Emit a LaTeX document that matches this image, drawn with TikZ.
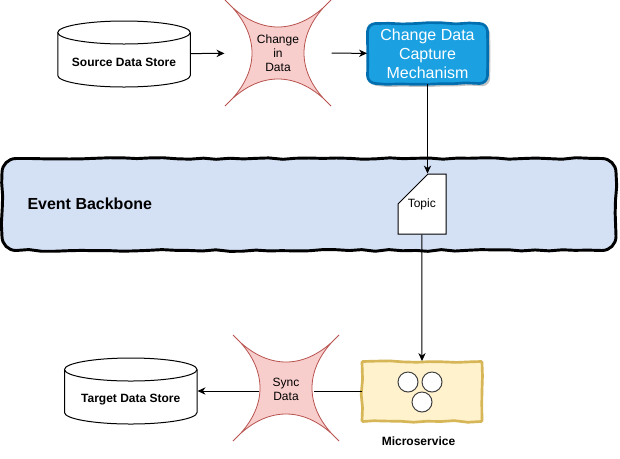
\documentclass[tikz,border=0pt]{standalone}
\usepackage{fontspec}
\setmainfont{Liberation Sans}
\usepackage{tikz}
\usetikzlibrary{arrows.meta,calc,positioning,shadows,decorations.pathmorphing}
\definecolor{burstfill}{HTML}{F8CECC}
\definecolor{burstline}{HTML}{B85450}
\definecolor{cdcfill}{HTML}{1BA1E2}
\definecolor{cdcline}{HTML}{006EAF}
\definecolor{backbonefill}{HTML}{D4E1F5}
\definecolor{svcfill}{HTML}{FFF2CC}
\definecolor{svcline}{HTML}{D6B656}
% one star with its four points on a 106 px square
\newcommand{\burstshape}[2]{%
  \begin{scope}[shift={(#1,#2)}]
    \path[draw=burstline,fill=burstfill,line width=.6pt] (-53,-53)
      .. controls (-20,-17) and (20,-17) .. (53,-53)
      .. controls (17,-20) and (17,20) .. (53,53)
      .. controls (20,17) and (-20,17) .. (-53,53)
      .. controls (-17,20) and (-17,-20) .. cycle;
  \end{scope}}
% cylinder outline, 132.5 px wide
\newcommand{\storeshape}[2]{%
  \begin{scope}[shift={(#1,#2)}]
    \draw[fill=white] (-66.25,-21.5) -- (-66.25,21.5)
      arc[start angle=180,end angle=0,x radius=66.25,y radius=11.5] -- (66.25,-21.5);
    \draw[fill=white] (0,-21.5) ellipse[x radius=66.25,y radius=11.5];
  \end{scope}}
% hand drawn box: centre, half width, half height, corner radius
\newcommand{\wobblebox}[6][]{%
  \begin{scope}[shift={(#2,#3)}]
    \draw[#1] (-#4+#6,-#5) decorate[wobble] {-- (#4-#6,-#5)}
      arc[start angle=270,end angle=360,radius=#6] decorate[wobble] {-- (#4,#5-#6)}
      arc[start angle=0,end angle=90,radius=#6] decorate[wobble] {-- (-#4+#6,#5)}
      arc[start angle=90,end angle=180,radius=#6] decorate[wobble] {-- (-#4,-#5+#6)}
      arc[start angle=180,end angle=270,radius=#6] -- cycle;
  \end{scope}}

\begin{document}
\begin{tikzpicture}[x=.75pt,y=-.75pt,>={Stealth[length=6pt,width=5.5pt]},line width=.75pt,
  font=\fontsize{9pt}{10.5pt}\selectfont,
  wobble/.style={decoration={random steps,segment length=10pt,amplitude=.7pt}},
  store/.style={minimum width=99.4pt,minimum height=49pt,inner sep=0pt,
    label={[storetext]center:#1}},
  storetext/.style={font=\fontsize{9pt}{10.5pt}\selectfont\bfseries,yshift=-6.6pt},
  burst/.style={align=center,inner sep=0pt},
  svccircle/.style={circle,draw=black!75,fill=white,minimum size=15pt,inner sep=0pt}]
\path[use as bounding box] (0,0) rectangle (620,458);
\fill[white] (0,0) rectangle (620,458);

% top row
\storeshape{124}{54}
\node[store={Source Data Store}] (srcstore) at (124,54) {};
\burstshape{278}{53}
\node[burst,minimum width=79.5pt,minimum height=79.5pt] (changeburst) at (278,53) {Change\\in\\Data};
\pgfmathsetseed{7}
\wobblebox[draw=cdcline,fill=cdcfill,line width=2pt,
  drop shadow={shadow xshift=2pt,shadow yshift=-2pt,fill=black!45,opacity=.5}]{427.5}{53.5}{60}{30}{8}
\node[minimum width=90pt,minimum height=45pt,inner sep=0pt,text=white,align=center,
  font=\fontsize{12pt}{14.25pt}\selectfont] (cdc) at (427.5,53.5) {Change Data\\Capture\\Mechanism};

% backbone and topic
\pgfmathsetseed{11}
\wobblebox[draw=black,fill=backbonefill,line width=2.2pt]{309}{204.5}{307}{46}{14}
\node[minimum width=461pt,minimum height=69pt,inner sep=0pt] (backbone) at (309,204.5) {};
\node[anchor=west,inner sep=0pt,font=\fontsize{12pt}{14pt}\selectfont\bfseries] (backbonetext) at (27,204) {Event Backbone};
\draw[fill=white] (398,204)--(428,174)--(446,174)--(446,234)--(398,234)--cycle;
\node[minimum width=36pt,minimum height=45pt,inner sep=0pt] (topic) at (421.75,204) {Topic};

% bottom row
\pgfmathsetseed{3}
\wobblebox[draw=svcline,fill=svcfill,line width=2pt]{422}{391.5}{60}{30}{1}
\node[minimum width=90pt,minimum height=45pt,inner sep=0pt] (microsvc) at (422,391.5) {};
\node[svccircle] (svcleft) at (408,382) {};
\node[svccircle] (svcright) at (432,382) {};
\node[svccircle] (svcbottom) at (422,402) {};
\node[font=\fontsize{9pt}{10.5pt}\selectfont\bfseries,inner sep=0pt] (svctext) at (418.5,441) {Microservice};
\burstshape{286}{388}
\node[burst,minimum width=40.5pt,minimum height=40.5pt] (syncburst) at (286,389) {Sync\\Data};
\storeshape{130.75}{391}
\node[store={Target Data Store}] (tgtstore) at (130.75,391) {};

% connectors
\draw[->] (srcstore) -- (changeburst);
\draw[->] (changeburst) -- (cdc);
\draw[->] (cdc.south) -- (cdc.south |- topic.north);
\draw[->] (topic.south) -- (microsvc.north);
\draw (microsvc.west) -- (syncburst.east |- microsvc.west);
\draw[->] (syncburst.west |- tgtstore.east) -- (tgtstore.east);
\end{tikzpicture}
\end{document}
